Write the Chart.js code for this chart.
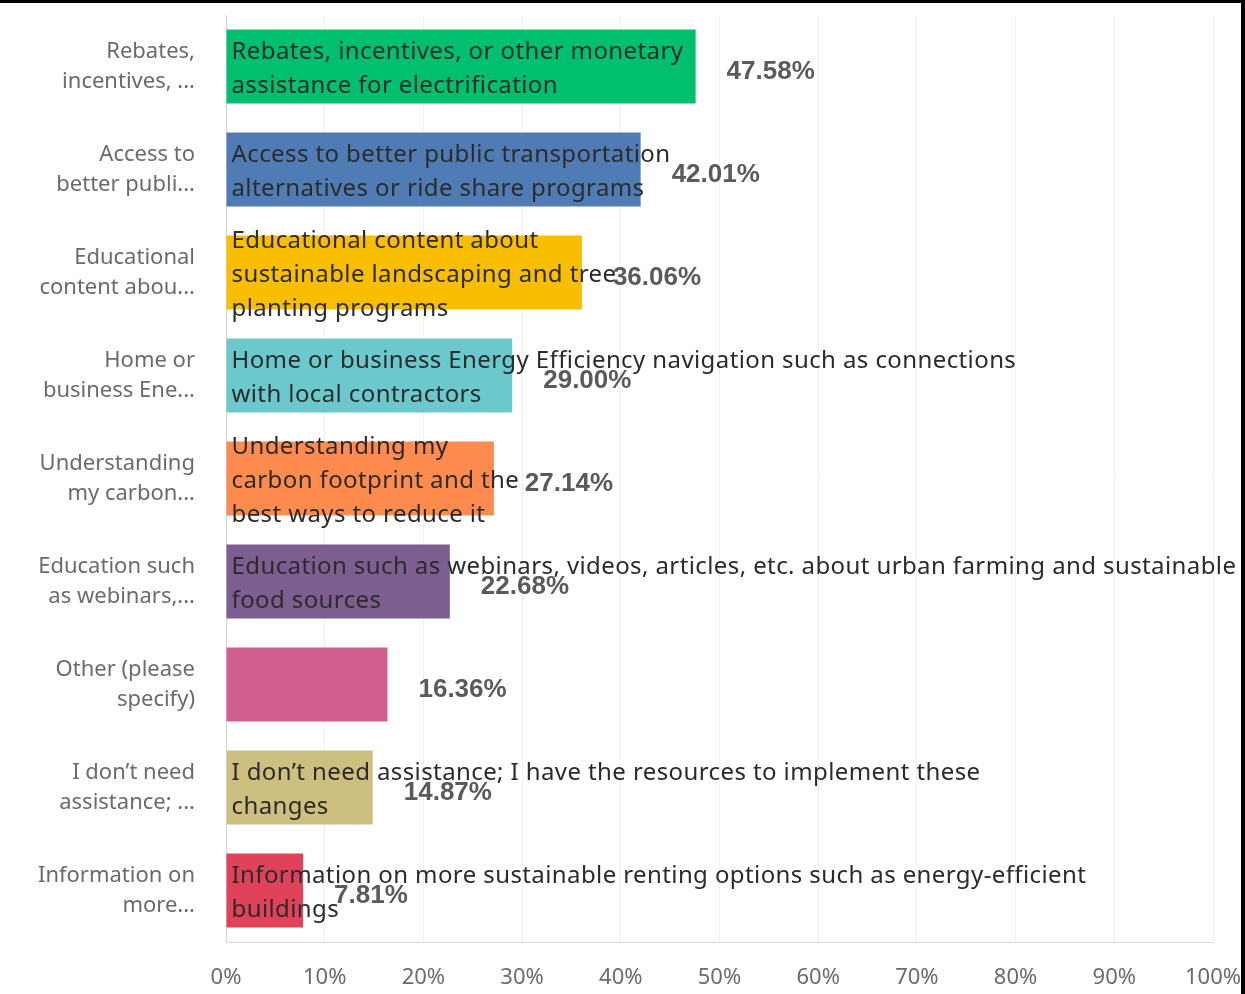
<!DOCTYPE html>
<html>
<head>
<meta charset="utf-8">
<script src="https://cdn.jsdelivr.net/npm/chart.js@4"></script>
<style>
    html, body { margin: 0; padding: 0; background: #fff; }
    #wrap { width: 1245px; height: 994px; position: relative; }
</style>
</head>
<body>
<div id="wrap"><canvas id="main-chart" width="1245" height="994"></canvas></div>
<script>
const categories = [
    ['Rebates,', 'incentives, ...'],
    ['Access to', 'better publi...'],
    ['Educational', 'content abou...'],
    ['Home or', 'business Ene...'],
    ['Understanding', 'my carbon...'],
    ['Education such', 'as webinars,...'],
    ['Other (please', 'specify)'],
    ['I don\u2019t need', 'assistance; ...'],
    ['Information on', 'more...'],
];

// full answer text shown over each bar
const answerText = [
    ['Rebates, incentives, or other monetary', 'assistance for electrification'],
    ['Access to better public transportation', 'alternatives or ride share programs'],
    ['Educational content about', 'sustainable landscaping and tree', 'planting programs'],
    ['Home or business Energy Efficiency navigation such as connections', 'with local contractors'],
    ['Understanding my', 'carbon footprint and the', 'best ways to reduce it'],
    ['Education such as webinars, videos, articles, etc. about urban farming and sustainable', 'food sources'],
    [],
    ['I don\u2019t need assistance; I have the resources to implement these', 'changes'],
    ['Information on more sustainable renting options such as energy-efficient', 'buildings'],
];

const values = [47.58, 42.01, 36.06, 29.00, 27.14, 22.68, 16.36, 14.87, 7.81];

const valueLabels = ['47.58%', '42.01%', '36.06%', '29.00%', '27.14%', '22.68%', '16.36%', '14.87%', '7.81%'];

const barColors = ['#00bf6f', '#507cb6', '#f9be00', '#6bc8cd', '#ff8b4f', '#7d5e90', '#d25f90', '#cdbf80', '#e0425a'];

const barText = {
    id: 'barText',
    afterDatasetsDraw(chart) {
        const ctx = chart.ctx;
        const meta = chart.getDatasetMeta(0);
        ctx.save();
        meta.data.forEach((bar, i) => {
            // answer text over the bar
            const lines = answerText[i];
            ctx.font = '24px "Noto Sans"';
            ctx.letterSpacing = '0.4px';
            ctx.fillStyle = '#2b2b2b';
            ctx.textAlign = 'left';
            ctx.textBaseline = 'middle';
            const lh = 34;
            const top = bar.y + 3 - (lines.length - 1) * lh / 2;
            lines.forEach((t, k) => ctx.fillText(t, bar.base + 5, top + k * lh));

            // percentage
            ctx.letterSpacing = '0px';
            ctx.font = 'bold 26px "Liberation Sans"';
            ctx.fillStyle = '#5a5a5a';
            ctx.fillText(valueLabels[i], bar.x + 31, bar.y + 5);
        });
        ctx.restore();
    },
    afterDraw(chart) {
        const ctx = chart.ctx;
        ctx.save();
        ctx.fillStyle = '#000';
        ctx.fillRect(0, 0, 1245, 3);
        ctx.fillRect(1241, 0, 4, 994);
        ctx.restore();
    }
};

const config = {
    type: 'bar',
    data: {
        labels: categories,
        datasets: [{
            data: values,
            backgroundColor: barColors,
            borderWidth: 0,
            barPercentage: 0.72,
            categoryPercentage: 1,
        }]
    },
    options: {
        indexAxis: 'y',
        responsive: false,
        animation: false,
        layout: {
            padding: { left: 0, right: 32, top: 15, bottom: 0 }
        },
        plugins: {
            legend: { display: false },
            tooltip: { enabled: false },
        },
        scales: {
            x: {
                min: 0,
                max: 100,
                ticks: {
                    stepSize: 10,
                    padding: 23,
                    color: '#6b6b6b',
                    font: { family: 'Noto Sans', size: 22 },
                    callback: v => v + '%',
                },
                grid: {
                    color: '#f0f0f0',
                    drawTicks: false,
                },
                border: { color: '#d9d9d9', width: 1 },
                afterFit: s => {
                    s.height = 52;
                    s.paddingLeft = 0;
                    s.paddingRight = 0;
                },
            },
            y: {
                ticks: {
                    padding: 31,
                    color: '#6b6b6b',
                    font: { family: 'Noto Sans', size: 22, lineHeight: 1.36 },
                },
                grid: { display: false, drawTicks: false },
                border: { color: '#d4d4d4', width: 1 },
                afterFit: s => {
                    s.width = 226;
                    s.paddingTop = 0;
                    s.paddingBottom = 0;
                },
            }
        }
    },
    plugins: [barText]
};

const myChart = new Chart(document.getElementById('main-chart'), config);
</script>
</body>
</html>
